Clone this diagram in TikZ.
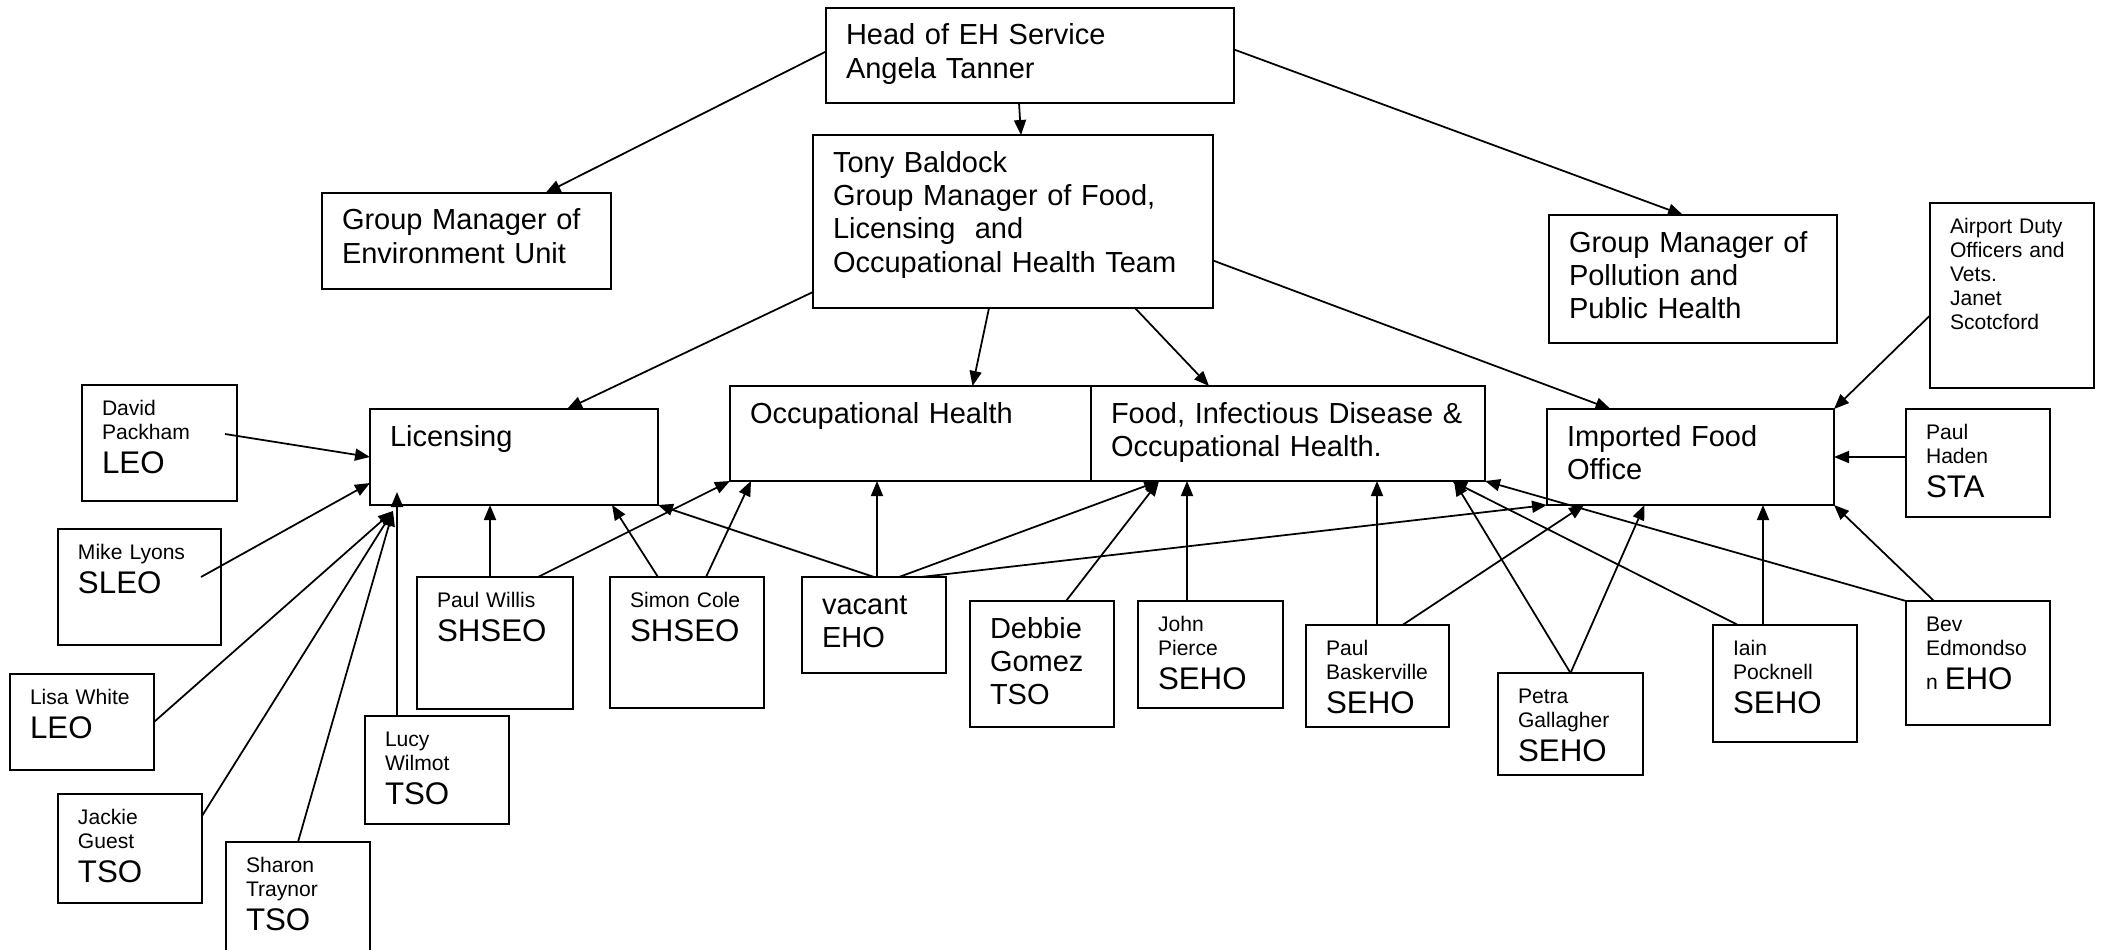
\documentclass[tikz,border=0pt]{standalone}
\usepackage{fontspec}
\setmainfont{Liberation Sans}
\usetikzlibrary{arrows.meta}

\hyphenpenalty=10000
\exhyphenpenalty=10000

\newcommand{\unitsize}{\fontsize{8.25}{9.53}\selectfont}
\newcommand{\namesize}{\fontsize{6}{6.83}\selectfont\lineskiplimit=-20pt}
\newcommand{\rolesize}{\fontsize{8.9}{9.7}\selectfont}

\tikzset{
  box/.style={draw, line width=0.5pt, anchor=north west, align=left,
    inner xsep=0.2cm, inner ysep=0pt, outer sep=0pt},
  unit/.style={box, font=\unitsize, text height=0.37cm, text depth=#1},
  staff/.style={box, font=\namesize, text height=0.30cm, text depth=#1},
  link/.style={line width=0.5pt, -{Triangle[length=0.15cm,width=0.12cm]}},
}

\begin{document}
\begin{tikzpicture}
  \useasboundingbox (0,0) rectangle (21.02,-9.50);

  % managers
  \node[unit=0.58cm, text width=3.68cm] (head) at (8.26,-0.08) {Head of EH Service\\Angela Tanner};
  \node[unit=1.36cm, text width=3.60cm] (tony) at (8.13,-1.35) {Tony Baldock\\Group Manager of Food,\\Licensing~ and\\Occupational Health Team};
  \node[unit=0.59cm, text width=2.49cm] (env) at (3.22,-1.93) {Group Manager of\\Environment Unit};
  \node[unit=0.91cm, text width=2.48cm] (poll) at (15.49,-2.15) {Group Manager of\\Pollution and\\Public Health};
  \node[staff=1.55cm, text width=1.24cm] (airport) at (19.30,-2.03) {Airport Duty\\Officers and\\Vets.\\Janet\\Scotcford};

  % teams
  \node[unit=0.59cm, text width=2.48cm] (lic) at (3.70,-4.09) {Licensing};
  \node[unit=0.58cm, text width=3.21cm] (occ) at (7.30,-3.86) {Occupational Health};
  \node[unit=0.58cm, text width=3.54cm] (food) at (10.91,-3.86) {Food, Infectious Disease \&\\Occupational Health.};
  \node[unit=0.59cm, text width=2.47cm] (imp) at (15.47,-4.09) {Imported Food\\Office};

  % staff
  \node[staff=0.86cm, text width=1.15cm] (david) at (0.82,-3.85) {David\\Packham\\[0.1cm]{\rolesize LEO}};
  \node[staff=0.86cm, text width=1.23cm] (mike) at (0.58,-5.29) {Mike Lyons\\[0.1cm]{\rolesize SLEO}};
  \node[staff=0.66cm, text width=1.04cm] (lisa) at (0.10,-6.74) {Lisa White\\[0.1cm]{\rolesize LEO}};
  \node[staff=0.79cm, text width=1.04cm] (jackie) at (0.58,-7.94) {Jackie\\Guest\\[0.1cm]{\rolesize TSO}};
  \node[staff=0.90cm, text width=1.04cm] (sharon) at (2.26,-8.42) {Sharon\\Traynor\\[0.1cm]{\rolesize TSO}};
  \node[staff=0.78cm, text width=1.04cm] (lucy) at (3.65,-7.16) {Lucy\\Wilmot\\[0.1cm]{\rolesize TSO}};
  \node[staff=1.02cm, text width=1.16cm] (willis) at (4.17,-5.77) {Paul Willis\\[0.1cm]{\rolesize SHSEO}};
  \node[staff=1.01cm, text width=1.14cm] (simon) at (6.10,-5.77) {Simon Cole\\[0.1cm]{\rolesize SHSEO}};
  \node[unit=0.59cm, text width=1.04cm] (vacant) at (8.02,-5.77) {vacant\\EHO};
  \node[unit=0.89cm, text width=1.04cm] (debbie) at (9.70,-6.01) {Debbie\\Gomez\\TSO};
  \node[staff=0.77cm, text width=1.05cm] (john) at (11.38,-6.01) {John\\Pierce\\[0.1cm]{\rolesize SEHO}};
  \node[staff=0.72cm, text width=1.03cm] (bask) at (13.06,-6.25) {Paul\\Baskerville\\[0.1cm]{\rolesize SEHO}};
  \node[staff=0.72cm, text width=1.05cm] (petra) at (14.98,-6.73) {Petra\\Gallagher\\[0.1cm]{\rolesize SEHO}};
  \node[staff=0.87cm, text width=1.04cm] (iain) at (17.13,-6.25) {Iain\\Pocknell\\[0.1cm]{\rolesize SEHO}};
  \node[staff=0.94cm, text width=1.04cm] (bev) at (19.06,-6.01) {Bev\\Edmondso\\[0.1cm]n {\rolesize EHO}};
  \node[staff=0.78cm, text width=1.04cm] (haden) at (19.06,-4.09) {Paul\\Haden\\[0.1cm]{\rolesize STA}};

  \coordinate (licin) at ([xshift=0.23cm,yshift=-0.06cm]lic.south west);

  % head and group managers
  \draw[link] ([yshift=0.04cm]head.west) -- ([xshift=0.79cm]env.north);
  \draw[link] ([xshift=-0.11cm]head.south) -- ([xshift=0.08cm]tony.north);
  \draw[link] ([yshift=0.06cm]head.east) -- ([xshift=-0.10cm]poll.north);
  \draw[link] ([yshift=0.16cm]tony.south west) -- ([xshift=0.53cm]lic.north);
  \draw[link] ([xshift=-0.24cm]tony.south) -- ([xshift=0.62cm]occ.north);
  \draw[link] ([xshift=1.22cm]tony.south) -- ([xshift=-0.79cm]food.north);
  \draw[link] ([yshift=-0.39cm]tony.east) -- ([xshift=-0.80cm]imp.north);

  % imported food office
  \draw[link] ([yshift=-0.20cm]airport.west) -- (imp.north east);
  \draw[link] (haden.west |- imp.east) -- (imp.east);
  \draw[link] ([xshift=-0.44cm]bev.north) -- (imp.south east);
  \draw[link] ([xshift=-0.22cm]iain.north) -- ([xshift=-0.22cm]iain.north |- imp.south);
  \draw[link] (petra.north) -- ([xshift=-0.46cm]imp.south);
  \draw[link] ([xshift=0.25cm]bask.north) -- ([xshift=0.37cm]imp.south west);
  \draw[link] ([xshift=0.47cm]vacant.north) -- (imp.south west);

  % food team
  \draw[link] (bev.north west) -- (food.south east);
  \draw[link] ([xshift=-0.47cm]iain.north) -- ([xshift=-0.33cm]food.south east);
  \draw[link] (petra.north) -- ([xshift=-0.31cm]food.south east);
  \draw[link] ([xshift=-0.005cm]bask.north) -- ([xshift=-0.005cm]bask.north |- food.south);
  \draw[link] ([xshift=-0.235cm]john.north) -- ([xshift=-0.235cm]john.north |- food.south);
  \draw[link] ([xshift=0.24cm]debbie.north) -- ([xshift=-1.29cm]food.south);
  \draw[link] ([xshift=0.25cm]vacant.north) -- ([xshift=-1.29cm]food.south);

  % occupational health
  \draw[link] ([xshift=0.03cm]vacant.north) -- ([xshift=0.03cm]vacant.north |- occ.south);
  \draw[link] ([xshift=0.19cm]simon.north) -- ([xshift=0.21cm]occ.south west);
  \draw[link] ([xshift=0.43cm]willis.north) -- (occ.south west);

  % licensing
  \draw[link] (vacant.north) -- (lic.south east);
  \draw[link] ([xshift=-0.29cm]simon.north) -- ([xshift=0.98cm]lic.south);
  \draw[link] ([xshift=-0.05cm]willis.north) -- ([xshift=-0.05cm]willis.north |- lic.south);
  \draw[link, shorten >=-0.13cm] ([xshift=-0.40cm]lucy.north) -- ([xshift=-0.40cm]lucy.north |- lic.south);
  \draw[link] ([xshift=-0.12cm,yshift=0.09cm]david.east) -- (lic.west);
  \draw[link] ([xshift=-0.20cm,yshift=0.10cm]mike.east) -- ([yshift=0.22cm]lic.south west);
  \draw[link] (lisa.east) -- (licin);
  \draw[link] ([yshift=-0.22cm]jackie.north east) -- (licin);
  \draw[link] (sharon.north) -- (licin);
\end{tikzpicture}
\end{document}
